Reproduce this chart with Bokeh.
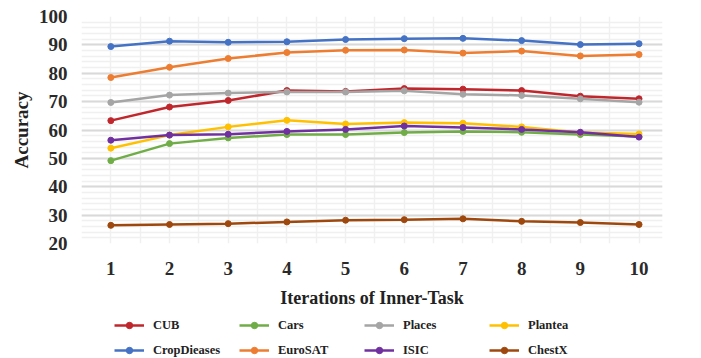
from bokeh.plotting import figure
from bokeh.layouts import column
from bokeh.models import Legend, LegendItem, FixedTicker, Range1d
from bokeh.embed import file_html
from bokeh.resources import INLINE

iterations = [1, 2, 3, 4, 5, 6, 7, 8, 9, 10]
x_labels = ["1", "2", "3", "4", "5", "6", "7", "8", "9", "10"]

cub = [63.3, 68.1, 70.4, 73.9, 73.6, 74.6, 74.4, 73.9, 71.9, 71.0]
cars = [49.2, 55.2, 57.2, 58.4, 58.4, 59.1, 59.5, 59.2, 58.4, 57.7]
places = [69.7, 72.3, 73.0, 73.4, 73.4, 73.8, 72.6, 72.2, 71.0, 69.8]
plantea = [53.6, 58.2, 61.1, 63.4, 62.1, 62.6, 62.4, 61.1, 59.1, 58.6]
cropdieases = [89.4, 91.3, 90.9, 91.1, 91.9, 92.2, 92.3, 91.5, 90.1, 90.4]
eurosat = [78.5, 82.1, 85.2, 87.3, 88.1, 88.2, 87.1, 87.8, 86.1, 86.6]
isic = [56.4, 58.2, 58.5, 59.5, 60.2, 61.4, 60.9, 60.2, 59.2, 57.5]
chestx = [26.4, 26.7, 27.0, 27.6, 28.2, 28.4, 28.7, 27.8, 27.4, 26.7]

series = [
    ("CUB", cub, "#C0272D"),
    ("Cars", cars, "#70AD47"),
    ("Places", places, "#A5A5A5"),
    ("Plantea", plantea, "#FFC000"),
    ("CropDieases", cropdieases, "#4472C4"),
    ("EuroSAT", eurosat, "#ED7D31"),
    ("ISIC", isic, "#7030A0"),
    ("ChestX", chestx, "#9E480E"),
]

FONT = "Liberation Serif"

p = figure(
    width=693, height=310,
    x_range=Range1d(0.5, 10.4), y_range=Range1d(20, 100),
    output_backend="svg", toolbar_location=None,
    min_border_left=81, min_border_top=16, min_border_right=31, min_border_bottom=66,
)
p.outline_line_color = None
p.background_fill_color = "white"
p.border_fill_color = "white"

# axes
p.xaxis.ticker = FixedTicker(ticks=iterations)
p.xaxis.major_label_overrides = {i: s for i, s in zip(iterations, x_labels)}
p.yaxis.ticker = FixedTicker(ticks=[20, 30, 40, 50, 60, 70, 80, 90, 100],
                             minor_ticks=list(range(20, 101, 2)))
for ax in (p.xaxis[0], p.yaxis[0]):
    ax.axis_line_color = None
    ax.major_tick_line_color = None
    ax.minor_tick_line_color = None
    ax.major_label_text_font = FONT
    ax.major_label_text_font_style = "bold"
    ax.major_label_text_font_size = "19px"
    ax.major_label_text_color = "#2a2a2a"
    ax.axis_label_text_font = FONT
    ax.axis_label_text_font_style = "bold"
    ax.axis_label_text_color = "#222222"
p.xaxis.axis_label = "Iterations of Inner-Task"
p.yaxis.axis_label = "Accuracy"
p.xaxis.axis_label_text_font_size = "18px"
p.yaxis.axis_label_text_font_size = "19px"
p.xaxis.major_label_standoff = 12
p.xaxis.axis_label_standoff = 10
p.yaxis.major_label_standoff = 8
p.yaxis.axis_label_standoff = 4

# grids
p.ygrid.grid_line_color = "#D9D9D9"
p.ygrid.grid_line_width = 2
p.ygrid.minor_grid_line_color = "#F0F0F0"
p.ygrid.minor_grid_line_width = 1.5
p.xgrid.ticker = FixedTicker(ticks=[0.5 + 0.5 * k for k in range(20)])
p.xgrid.grid_line_color = "#F0F0F0"
p.xgrid.grid_line_width = 1.5

for name, vals, color in series:
    p.line(iterations, vals, line_color=color, line_width=2.5)
    p.scatter(iterations, vals, size=6, fill_color=color, line_color=color)

# legend strip below the chart (its own renderers sit outside its visible ranges)
lg = figure(
    width=693, height=48, x_range=Range1d(0, 1), y_range=Range1d(0, 1),
    x_axis_type=None, y_axis_type=None,
    output_backend="svg", toolbar_location=None, min_border=0,
)
lg.outline_line_color = None
lg.grid.visible = False
items = []
for name, vals, color in series:
    r1 = lg.line(iterations, vals, line_color=color, line_width=2.5)
    r2 = lg.scatter(iterations, vals, size=6, fill_color=color, line_color=color)
    items.append(LegendItem(label=name, renderers=[r1, r2]))

legend = Legend(
    items=items, orientation="horizontal", ncols=4,
    location=(33, 0),
    label_text_font=FONT, label_text_font_style="bold",
    label_text_font_size="12.5px", label_text_color="#222222",
    glyph_width=30, glyph_height=16, label_height=16,
    label_width=77, label_standoff=9, spacing=9,
    padding=1, margin=0,
    border_line_color=None, background_fill_alpha=0,
)
lg.add_layout(legend, "center")

open("out.html", "w").write(file_html(column(p, lg, spacing=0), INLINE))
